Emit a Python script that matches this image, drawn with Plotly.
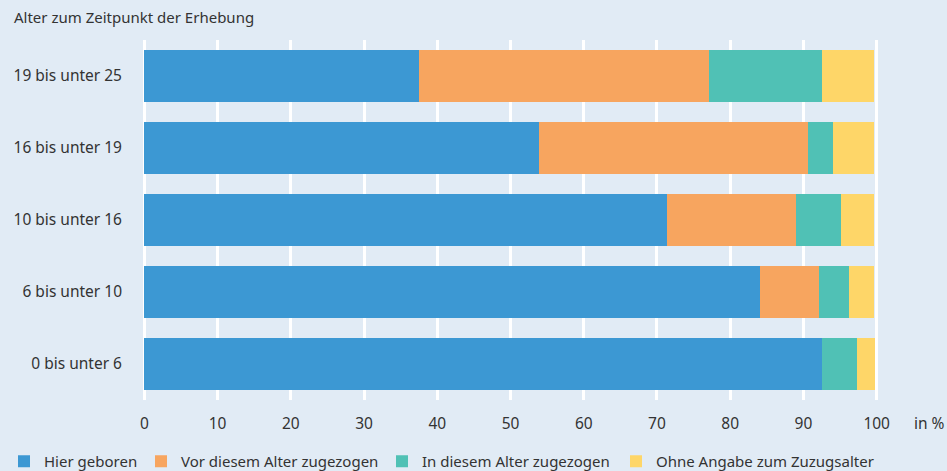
import plotly.graph_objects as go

# Age groups, bottom to top as plotted
ages = ["0 bis unter 6", "6 bis unter 10", "10 bis unter 16", "16 bis unter 19", "19 bis unter 25"]

hier_geboren = [92.5, 84.1, 71.4, 53.9, 37.5]
vor_zugezogen = [0.0, 8.0, 17.6, 36.7, 39.6]
in_zugezogen = [4.8, 4.1, 6.1, 3.4, 15.5]
ohne_angabe = [2.5, 3.5, 4.6, 5.6, 7.0]

series = [
    ("Hier geboren", hier_geboren, "#3C98D3"),
    ("Vor diesem Alter zugezogen", vor_zugezogen, "#F7A55F"),
    ("In diesem Alter zugezogen", in_zugezogen, "#50C1B5"),
    ("Ohne Angabe zum Zuzugsalter", ohne_angabe, "#FED668"),
]

tick_vals = [0, 10, 20, 30, 40, 50, 60, 70, 80, 90, 100]

bg = "#E1EBF5"
txt = "#333333"
fs = 15.5

# one legend per entry so each item sits where the original puts it
legend_ids = ["legend", "legend2", "legend3", "legend4"]
legend_x = [4, 141, 382, 616]

fig = go.Figure()
for (name, vals, col), lid in zip(series, legend_ids):
    fig.add_trace(go.Bar(
        y=ages, x=vals, name=name, orientation="h", legend=lid,
        marker=dict(color=col, line=dict(width=0)),
    ))

fig.update_layout(
    barmode="stack",
    bargap=0.28,
    width=947, height=471,
    paper_bgcolor=bg, plot_bgcolor=bg,
    font=dict(family="Noto Sans", size=fs, color=txt),
    margin=dict(l=137, r=63, t=40, b=71),
    title=dict(text="Alter zum Zeitpunkt der Erhebung", x=14/947, xanchor="left",
               y=1 - 18/471, yanchor="middle", font=dict(size=15, color=txt)),
    showlegend=True,
)
for lid, lx in zip(legend_ids, legend_x):
    fig.update_layout({lid: dict(orientation="h", xref="container", yref="container",
                                 x=lx/947, xanchor="left", y=1 - 461.5/471, yanchor="middle",
                                 font=dict(size=15, color=txt), bgcolor="rgba(0,0,0,0)",
                                 itemclick=False, itemdoubleclick=False)})

fig.update_xaxes(
    range=[-1, 101], tickvals=tick_vals, showgrid=True, gridcolor="white", gridwidth=2.5,
    zeroline=False, showline=False, ticks="", ticklabelstandoff=12, automargin=False,
)
fig.update_yaxes(
    showgrid=False, zeroline=False, showline=False, ticks="", ticklabelstandoff=14,
    categoryorder="array", categoryarray=ages, automargin=False,
)

fig.add_annotation(text="in %", xref="paper", yref="paper", x=1, y=0, xshift=28, yshift=-23,
                   showarrow=False, xanchor="left", yanchor="middle", font=dict(size=fs, color=txt))

fig.write_html("out.html", config={"displayModeBar": False},
               post_script="document.body.style.margin='0';")
